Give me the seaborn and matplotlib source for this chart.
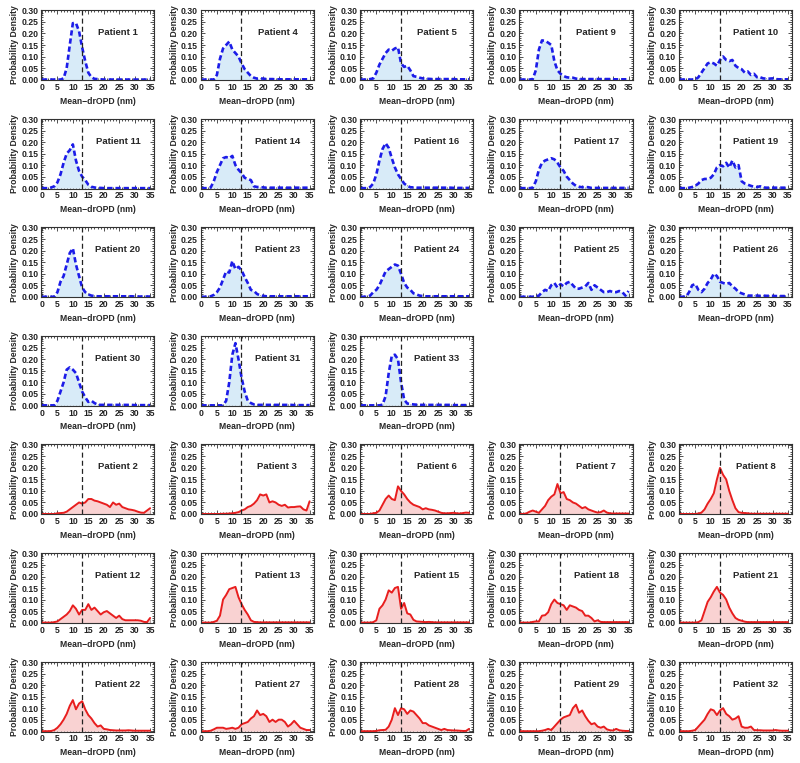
import matplotlib.pyplot as plt
import seaborn as sns
import pandas as pd
from matplotlib.ticker import MultipleLocator, FormatStrFormatter

# bin centres (nm) shared by every patient histogram
nm_bins = [0, 1, 2, 3, 4, 5, 6, 7, 8, 9,
           10, 11, 12, 13, 14, 15, 16, 17, 18, 19,
           20, 21, 22, 23, 24, 25, 26, 27, 28, 29,
           30, 31, 32, 33, 34, 35]
cutoff = 12.9

# group shown in blue (dashed)
p1 = [0, 0, 0, 0, 0, 0, 0, 0.005, 0.05, 0.15,
      0.245, 0.245, 0.21, 0.14, 0.08, 0.03, 0.01, 0.003, 0.002, 0.001,
      0, 0, 0, 0, 0, 0, 0, 0, 0, 0,
      0, 0, 0, 0, 0, 0]
p4 = [0, 0, 0, 0, 0, 0.02, 0.09, 0.135, 0.15, 0.165,
      0.13, 0.115, 0.10, 0.07, 0.045, 0.03, 0.015, 0.008, 0.004, 0.005,
      0.004, 0.002, 0.002, 0.002, 0.001, 0.001, 0.001, 0.001, 0.001, 0.001,
      0.001, 0.001, 0.001, 0.001, 0.001, 0.001]
p5 = [0, 0, 0, 0.002, 0.005, 0.03, 0.065, 0.09, 0.115, 0.13,
      0.125, 0.135, 0.14, 0.07, 0.055, 0.06, 0.04, 0.015, 0.012, 0.008,
      0.005, 0.003, 0.003, 0.002, 0.002, 0.002, 0.002, 0.002, 0.002, 0.002,
      0.002, 0.001, 0.001, 0.001, 0.001, 0.001]
p9 = [0, 0, 0, 0, 0.002, 0.04, 0.13, 0.17, 0.168, 0.16,
      0.15, 0.08, 0.04, 0.025, 0.015, 0.01, 0.008, 0.008, 0.004, 0.002,
      0.002, 0.002, 0.002, 0.002, 0.002, 0.002, 0.002, 0.002, 0.002, 0.002,
      0.001, 0.001, 0.001, 0.001, 0.001, 0.001]
p10 = [0, 0, 0, 0, 0, 0, 0.01, 0.03, 0.05, 0.07,
       0.075, 0.07, 0.06, 0.085, 0.10, 0.085, 0.08, 0.085, 0.06, 0.05,
       0.045, 0.03, 0.035, 0.02, 0.025, 0.01, 0.01, 0.005, 0.004, 0.004,
       0.005, 0.002, 0.001, 0.001, 0.001, 0.001]
p11 = [0, 0, 0, 0.003, 0.008, 0.025, 0.06, 0.11, 0.15, 0.165,
       0.19, 0.12, 0.075, 0.05, 0.035, 0.015, 0.006, 0.003, 0.001, 0.001,
       0, 0, 0, 0, 0, 0, 0, 0, 0, 0,
       0, 0, 0, 0, 0, 0]
p14 = [0, 0, 0, 0.003, 0.03, 0.07, 0.10, 0.13, 0.135, 0.13,
       0.14, 0.10, 0.08, 0.065, 0.045, 0.04, 0.035, 0.008, 0.005, 0.005,
       0.003, 0.002, 0.002, 0.002, 0.002, 0.002, 0.002, 0.002, 0.002, 0.002,
       0.002, 0.002, 0.002, 0.002, 0.002, 0.002]
p16 = [0, 0, 0, 0.005, 0.02, 0.06, 0.12, 0.17, 0.195, 0.175,
       0.13, 0.09, 0.06, 0.04, 0.02, 0.01, 0.004, 0.003, 0.002, 0.002,
       0.002, 0.002, 0.002, 0.002, 0.002, 0.002, 0.002, 0.002, 0.002, 0.002,
       0.001, 0.001, 0.001, 0.001, 0.001, 0.001]
p17 = [0, 0, 0, 0, 0.002, 0.03, 0.08, 0.11, 0.12, 0.125,
       0.13, 0.125, 0.11, 0.09, 0.075, 0.05, 0.035, 0.02, 0.01, 0.006,
       0.004, 0.005, 0.004, 0.001, 0.001, 0.001, 0.001, 0.001, 0.001, 0.001,
       0.001, 0.001, 0.001, 0.001, 0.001, 0.001]
p19 = [0, 0, 0, 0.002, 0.005, 0.01, 0.02, 0.035, 0.04, 0.04,
       0.045, 0.06, 0.09, 0.10, 0.095, 0.11, 0.09, 0.12, 0.09, 0.10,
       0.03, 0.02, 0.015, 0.01, 0.006, 0.005, 0.008, 0.003, 0.002, 0.002,
       0.002, 0.002, 0.002, 0.002, 0.002, 0.002]
p20 = [0, 0, 0, 0, 0, 0.02, 0.065, 0.09, 0.14, 0.19,
       0.21, 0.14, 0.09, 0.04, 0.02, 0.01, 0.005, 0.003, 0.002, 0.002,
       0.002, 0.002, 0.002, 0.002, 0.002, 0.002, 0.002, 0.002, 0.002, 0.002,
       0.001, 0.001, 0.001, 0.001, 0.001, 0.001]
p23 = [0, 0, 0, 0.002, 0.008, 0.02, 0.04, 0.075, 0.11, 0.105,
       0.155, 0.12, 0.13, 0.115, 0.085, 0.06, 0.03, 0.025, 0.012, 0.006,
       0.004, 0.002, 0.002, 0.002, 0.002, 0.002, 0.002, 0.002, 0.002, 0.002,
       0.002, 0.002, 0.002, 0.002, 0.002, 0.002]
p24 = [0, 0, 0, 0.005, 0.02, 0.03, 0.05, 0.08, 0.11, 0.12,
       0.13, 0.14, 0.135, 0.10, 0.06, 0.04, 0.03, 0.015, 0.01, 0.005,
       0.003, 0.002, 0.002, 0.002, 0.002, 0.002, 0.002, 0.002, 0.002, 0.002,
       0.002, 0.002, 0.002, 0.002, 0.002, 0.002]
p25 = [0, 0, 0, 0, 0, 0.002, 0.005, 0.02, 0.03, 0.025,
       0.05, 0.06, 0.04, 0.055, 0.045, 0.06, 0.065, 0.05, 0.035, 0.035,
       0.04, 0.045, 0.06, 0.03, 0.05, 0.04, 0.03, 0.02, 0.02, 0.025,
       0.02, 0.02, 0.025, 0.02, 0.005, 0.025]
p26 = [0, 0, 0, 0.02, 0.05, 0.055, 0.03, 0.02, 0.035, 0.06,
       0.075, 0.10, 0.09, 0.065, 0.06, 0.055, 0.06, 0.045, 0.035, 0.02,
       0.015, 0.01, 0.005, 0.005, 0.005, 0.005, 0.004, 0.005, 0.004, 0.004,
       0.004, 0.003, 0.003, 0.003, 0.003, 0.01]
p30 = [0, 0, 0, 0, 0, 0.02, 0.06, 0.10, 0.155, 0.165,
       0.155, 0.14, 0.10, 0.06, 0.035, 0.015, 0.02, 0.01, 0.003, 0.002,
       0.002, 0.002, 0.002, 0.002, 0.002, 0.002, 0.002, 0.002, 0.002, 0.002,
       0.001, 0.001, 0.001, 0.001, 0.001, 0.001]
p31 = [0, 0, 0, 0, 0, 0, 0, 0, 0.02, 0.10,
       0.22, 0.27, 0.20, 0.12, 0.06, 0.02, 0.01, 0.004, 0.002, 0.002,
       0.002, 0.002, 0.002, 0.002, 0.002, 0.002, 0.002, 0.002, 0.002, 0.002,
       0.001, 0.001, 0.001, 0.001, 0.001, 0.001]
p33 = [0, 0, 0, 0, 0, 0, 0, 0.003, 0.04, 0.14,
       0.215, 0.22, 0.20, 0.10, 0.025, 0.008, 0.006, 0.004, 0.003, 0.002,
       0.002, 0.002, 0.002, 0.002, 0.002, 0.002, 0.002, 0.002, 0.002, 0.002,
       0.001, 0.001, 0.001, 0.001, 0.001, 0.001]

# group shown in red (solid)
p2 = [0, 0, 0, 0, 0, 0.003, 0.004, 0.005, 0.01, 0.02,
      0.03, 0.04, 0.05, 0.045, 0.05, 0.065, 0.065, 0.058, 0.055, 0.05,
      0.045, 0.04, 0.03, 0.05, 0.04, 0.045, 0.03, 0.025, 0.02, 0.018,
      0.015, 0.01, 0.006, 0.005, 0.015, 0.025]
p3 = [0, 0, 0, 0, 0, 0, 0, 0.001, 0.001, 0.002,
      0.003, 0.005, 0.008, 0.015, 0.02, 0.03, 0.035, 0.045, 0.06, 0.085,
      0.08, 0.085, 0.05, 0.055, 0.05, 0.04, 0.035, 0.04, 0.028, 0.03,
      0.03, 0.032, 0.033, 0.02, 0.015, 0.055]
p6 = [0, 0, 0, 0, 0.003, 0.005, 0.015, 0.04, 0.065, 0.08,
      0.065, 0.06, 0.12, 0.10, 0.085, 0.065, 0.05, 0.04, 0.035, 0.03,
      0.02, 0.025, 0.02, 0.018, 0.015, 0.01, 0.005, 0.003, 0.003, 0.004,
      0.005, 0.003, 0.002, 0.004, 0.006, 0.005]
p7 = [0, 0, 0.003, 0.01, 0.015, 0.01, 0.005, 0.02, 0.035, 0.06,
      0.075, 0.085, 0.13, 0.09, 0.095, 0.065, 0.06, 0.05, 0.045, 0.035,
      0.025, 0.03, 0.02, 0.015, 0.01, 0.006, 0.008, 0.015, 0.006, 0.003,
      0.002, 0.002, 0.002, 0.002, 0.002, 0.002]
p8 = [0, 0, 0, 0, 0, 0, 0.002, 0.006, 0.02, 0.045,
      0.065, 0.09, 0.15, 0.20, 0.17, 0.15, 0.10, 0.06, 0.025, 0.008,
      0.005, 0.004, 0.003, 0.001, 0.001, 0.001, 0.001, 0.001, 0.001, 0.001,
      0.001, 0.001, 0.001, 0.001, 0.001, 0.001]
p12 = [0, 0, 0, 0, 0.002, 0.005, 0.015, 0.025, 0.035, 0.05,
       0.075, 0.06, 0.035, 0.055, 0.055, 0.08, 0.055, 0.065, 0.05, 0.035,
       0.045, 0.05, 0.04, 0.03, 0.02, 0.03, 0.015, 0.01, 0.01, 0.01,
       0.01, 0.01, 0.008, 0.003, 0.002, 0.02]
p13 = [0, 0, 0, 0, 0.003, 0.008, 0.03, 0.10, 0.12, 0.145,
       0.15, 0.155, 0.11, 0.08, 0.055, 0.035, 0.01, 0.003, 0.002, 0.001,
       0.001, 0.001, 0.001, 0.001, 0.001, 0.001, 0.001, 0.001, 0.001, 0.001,
       0.001, 0.001, 0.001, 0.001, 0.001, 0.001]
p15 = [0, 0, 0, 0, 0.002, 0.01, 0.06, 0.075, 0.10, 0.14,
       0.13, 0.15, 0.155, 0.06, 0.085, 0.04, 0.035, 0.012, 0.005, 0.004,
       0.003, 0.002, 0.003, 0.002, 0.001, 0.001, 0.001, 0.001, 0.001, 0.001,
       0.001, 0.001, 0.001, 0.001, 0.001, 0.001]
p18 = [0, 0, 0, 0, 0.003, 0.005, 0.005, 0.03, 0.032, 0.045,
       0.08, 0.10, 0.085, 0.08, 0.075, 0.055, 0.075, 0.07, 0.065, 0.055,
       0.05, 0.03, 0.03, 0.02, 0.005, 0.01, 0.003, 0.002, 0.002, 0.002,
       0.002, 0.002, 0.002, 0.002, 0.002, 0.002]
p21 = [0, 0, 0, 0, 0, 0, 0.002, 0.01, 0.05, 0.09,
       0.11, 0.135, 0.155, 0.13, 0.12, 0.10, 0.065, 0.04, 0.02, 0.012,
       0.008, 0.004, 0.002, 0.002, 0.002, 0.002, 0.002, 0.002, 0.002, 0.002,
       0.002, 0.002, 0.002, 0.002, 0.002, 0.002]
p22 = [0, 0, 0, 0.001, 0.005, 0.015, 0.03, 0.05, 0.075, 0.11,
       0.135, 0.095, 0.12, 0.13, 0.095, 0.07, 0.055, 0.035, 0.02, 0.025,
       0.01, 0.008, 0.005, 0.004, 0.003, 0.003, 0.003, 0.003, 0.004, 0.003,
       0.002, 0.002, 0.002, 0.002, 0.002, 0.002]
p27 = [0, 0, 0, 0.002, 0.008, 0.015, 0.015, 0.015, 0.01, 0.012,
       0.015, 0.01, 0.015, 0.03, 0.035, 0.04, 0.055, 0.065, 0.09, 0.07,
       0.075, 0.065, 0.04, 0.05, 0.04, 0.05, 0.05, 0.04, 0.02, 0.03,
       0.045, 0.03, 0.015, 0.01, 0.005, 0.005]
p28 = [0, 0, 0, 0, 0, 0.001, 0.004, 0.005, 0.006, 0.02,
       0.05, 0.10, 0.07, 0.10, 0.095, 0.075, 0.09, 0.085, 0.07, 0.055,
       0.035, 0.035, 0.025, 0.02, 0.015, 0.01, 0.005, 0.01, 0.005, 0.004,
       0.003, 0.003, 0.002, 0.001, 0.001, 0.01]
p29 = [0, 0, 0, 0, 0, 0, 0, 0.002, 0.005, 0.01,
       0.005, 0.02, 0.035, 0.05, 0.06, 0.065, 0.07, 0.10, 0.115, 0.08,
       0.09, 0.065, 0.045, 0.03, 0.035, 0.02, 0.015, 0.02, 0.008, 0.004,
       0.003, 0.01, 0.004, 0.002, 0.001, 0.001]
p32 = [0, 0, 0, 0, 0.002, 0.005, 0.02, 0.035, 0.05, 0.075,
       0.095, 0.09, 0.07, 0.09, 0.10, 0.075, 0.065, 0.05, 0.055, 0.065,
       0.02, 0.015, 0.015, 0.02, 0.005, 0.004, 0.004, 0.003, 0.003, 0.003,
       0.003, 0.005, 0.003, 0.002, 0.002, 0.002]

blue_ids = [1, 4, 5, 9, 10, 11, 14, 16, 17, 19, 20, 23, 24, 25, 26, 30, 31, 33]
red_ids = [2, 3, 6, 7, 8, 12, 13, 15, 18, 21, 22, 27, 28, 29, 32]
curves = {1: p1, 4: p4, 5: p5, 9: p9, 10: p10, 11: p11, 14: p14, 16: p16,
          17: p17, 19: p19, 20: p20, 23: p23, 24: p24, 25: p25, 26: p26,
          30: p30, 31: p31, 33: p33,
          2: p2, 3: p3, 6: p6, 7: p7, 8: p8, 12: p12, 13: p13, 15: p15,
          18: p18, 21: p21, 22: p22, 27: p27, 28: p28, 29: p29, 32: p32}

records = []
for pid, vals in curves.items():
    for x, y in zip(nm_bins, vals):
        records.append((pid, x, y))
df = pd.DataFrame(records, columns=['patient', 'drOPD', 'density'])

sns.set_style('ticks')
plt.rcParams['font.family'] = ['Liberation Sans', 'DejaVu Sans']
plt.rcParams['font.weight'] = 'bold'
plt.rcParams['axes.labelweight'] = 'bold'

fig, axes = plt.subplots(7, 5, figsize=(8, 7.63), dpi=100)
plt.subplots_adjust(left=0.0513, right=0.99, top=0.9869, bottom=0.0411,
                    wspace=0.41, hspace=0.551)

slots = [(p, 'blue') for p in blue_ids] + [None, None] + [(p, 'red') for p in red_ids]

for ax, slot in zip(axes.flat, slots):
    if slot is None:
        ax.axis('off')
        continue
    pid, grp = slot
    sub = df[df.patient == pid]
    if grp == 'blue':
        ax.fill_between(sub.drOPD, sub.density, color='#d8ebf8', lw=0)
        sns.lineplot(data=sub, x='drOPD', y='density', ax=ax, color='#1c1ce8',
                     lw=1.9, linestyle=(0, (2.0, 1.1)))
    else:
        ax.fill_between(sub.drOPD, sub.density, color='#f9d2d2', lw=0)
        sns.lineplot(data=sub, x='drOPD', y='density', ax=ax, color='#e81e1e',
                     lw=1.4)
    ax.axvline(cutoff, color='#222222', lw=0.9, ls=(0, (4, 2.5)))
    ax.text(0.68, 0.68, f'Patient {pid}', transform=ax.transAxes,
            ha='center', va='center', fontsize=6.8, fontweight='bold')

    ax.set_xlim(-0.3, 36.3)
    ax.set_ylim(-0.002, 0.302)
    ax.xaxis.set_major_locator(MultipleLocator(5))
    ax.xaxis.set_minor_locator(MultipleLocator(1))
    ax.yaxis.set_major_locator(MultipleLocator(0.05))
    ax.yaxis.set_minor_locator(MultipleLocator(0.01))
    ax.yaxis.set_major_formatter(FormatStrFormatter('%.2f'))
    ax.tick_params(which='both', direction='in', top=True, right=True,
                   width=0.6, colors='#333333', labelcolor='#222222')
    ax.tick_params(which='major', length=3, labelsize=6.2, pad=2)
    ax.tick_params(which='minor', length=1.5)
    for s in ax.spines.values():
        s.set_color('#333333')
        s.set_linewidth(0.8)
    ax.set_xlabel('Mean\u2212drOPD (nm)', fontsize=6.2, labelpad=3.5)
    ax.set_ylabel('Probability Density', fontsize=6.2, labelpad=1.5)

fig.savefig('out.png', dpi=100)
